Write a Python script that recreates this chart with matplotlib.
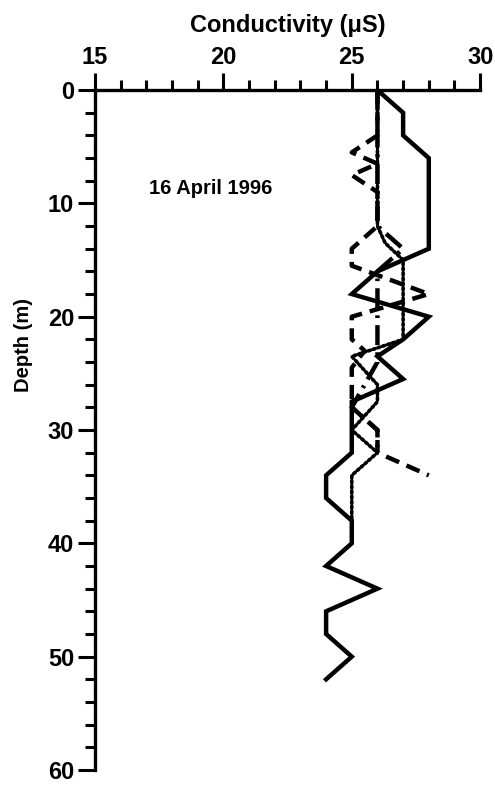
import numpy as np
import matplotlib
matplotlib.use("Agg")
import matplotlib.pyplot as plt
from matplotlib.ticker import MultipleLocator

plt.rcParams["font.family"] = ["Liberation Sans", "DejaVu Sans"]
plt.rcParams["font.weight"] = "bold"
plt.rcParams["axes.labelweight"] = "bold"

# -----------------------------
# PROFILE DATA (depth m, conductivity uS)
# -----------------------------

solid_depth = [0, 2, 4, 6, 14, 16, 18, 20, 22, 23.5, 25.5, 27.5, 32, 34, 36, 38, 40, 42, 44, 46, 48, 50, 52]
solid_cond = [26, 27, 27, 28, 28, 26, 25, 28, 27, 26, 27, 25, 25, 24, 24, 25, 25, 24, 26, 24, 24, 25, 24]

dashed_depth = [0, 4, 5.5, 6.5, 7.5, 9, 12, 14, 15.5, 18, 20, 22, 23, 24.5, 28, 30, 32, 34]
dashed_cond = [26, 26, 25, 26, 25, 26, 26, 25, 25, 28, 25, 25, 25.5, 25, 25, 26, 26, 28]

dotted_depth = [0, 12, 13.5, 15, 22, 23.5, 26, 27.5, 30, 32, 34, 38]
dotted_cond = [26, 26, 26.3, 27, 27, 25, 26, 26, 25, 26, 25, 25]

dashdot_depth = [0, 12, 14, 16, 24, 28, 30, 32]
dashdot_cond = [26, 26, 27, 26, 26, 25, 26, 26]

DATE_LABEL = "16 April 1996"

# -----------------------------
# PLOT
# -----------------------------

fig = plt.figure(figsize=(4.95, 7.86), dpi=100)
ax = fig.add_axes([0.192, 0.0204, 0.778, 0.865])

lw = 3.2
ax.plot(solid_cond, solid_depth, color="black", lw=lw, solid_joinstyle="miter")
ax.plot(dashed_cond, dashed_depth, color="black", lw=lw,
        linestyle=(0, (3.2, 1.8)), dash_capstyle="butt")
ax.plot(dotted_cond, dotted_depth, color="black", lw=2.6,
        linestyle=(0, (0.6, 0.8)), dash_capstyle="round")
ax.plot(dashdot_cond, dashdot_depth, color="black", lw=lw,
        linestyle=(0, (4.5, 1.6, 0.6, 1.6)), dash_capstyle="butt")

ax.text(17.1, 8.7, DATE_LABEL, fontsize=14.5, ha="left", va="center")

ax.set_xlim(15, 30)
ax.set_ylim(60, 0)

ax.xaxis.set_label_position("top")
ax.xaxis.tick_top()
ax.set_xticks([15, 20, 25, 30])
ax.xaxis.set_minor_locator(MultipleLocator(1))
ax.yaxis.set_major_locator(MultipleLocator(10))
ax.yaxis.set_minor_locator(MultipleLocator(2))

ax.set_xlabel("Conductivity (\u03bcS)", fontsize=17, labelpad=10)
ax.set_ylabel("Depth (m)", fontsize=14.5)
ax.yaxis.set_label_coords(-0.16, 0.625)

for side in ["right", "bottom"]:
    ax.spines[side].set_visible(False)
for side in ["top", "left"]:
    ax.spines[side].set_linewidth(2.4)

ax.tick_params(axis="both", which="major", direction="out", length=12,
               width=2.2, labelsize=17, pad=3)
ax.tick_params(axis="both", which="minor", direction="out", length=7, width=2.2)

fig.savefig("out.png", dpi=100)
plt.close(fig)
